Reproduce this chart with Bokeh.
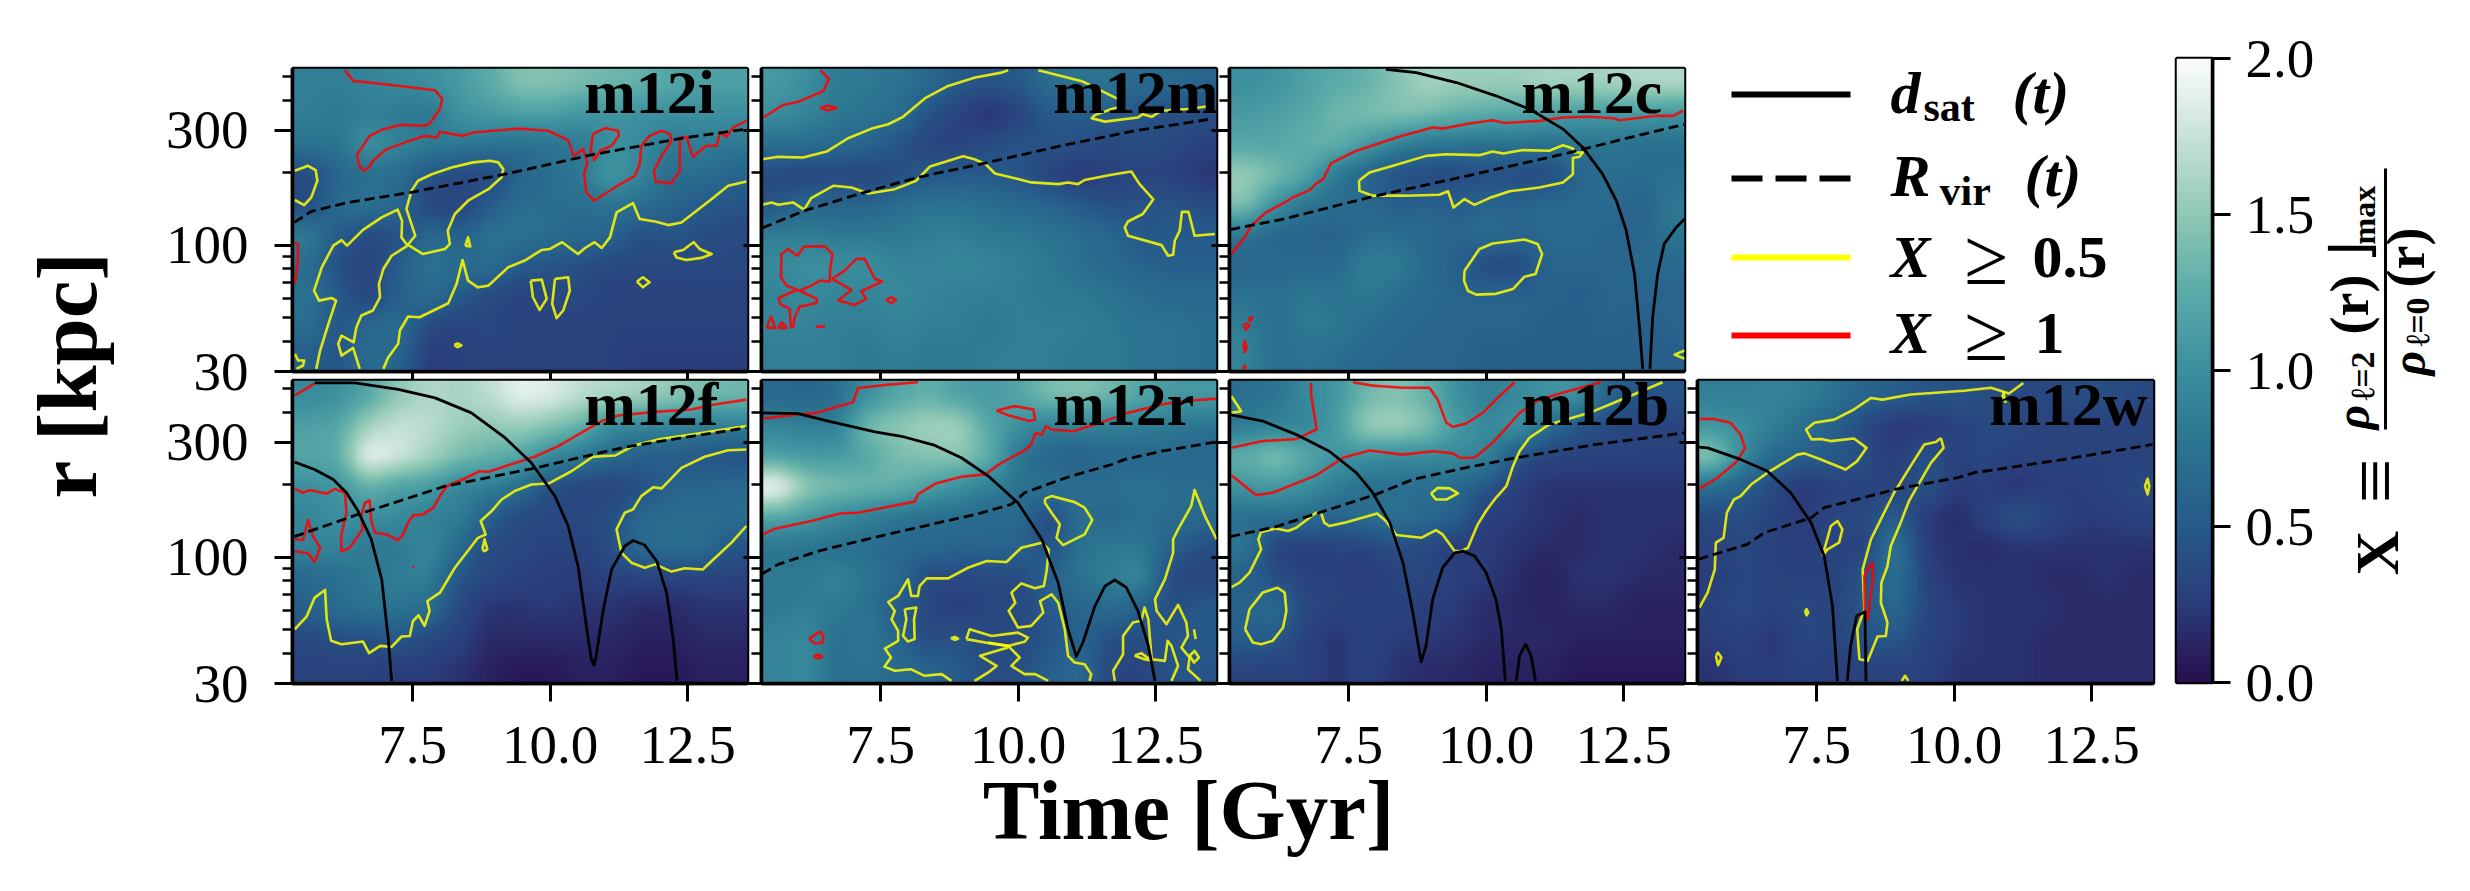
import math
import numpy as np
from bokeh.embed import file_html
from bokeh.resources import INLINE
from bokeh.plotting import figure
from bokeh.layouts import row, column
from bokeh.models import Range1d, FixedTicker, NumeralTickFormatter, LinearColorMapper, Label

# Heat-map values X, read row by row from the top of each panel (15 columns x 10 rows, uniform in t and log r)
M12I_X = [
 [.85,.85,.9,.95,1.0,1.1,1.25,1.45,1.45,1.4,1.35,1.3,1.2,1.15,1.15],
 [.85,.8,.85,.8,.75,1.05,1.1,1.15,1.15,1.05,1.05,1.0,1.0,1.0,1.0],
 [.75,.75,1.05,.9,.85,.8,.75,.7,.75,.8,1.0,.95,.8,.85,.8],
 [.35,.6,.7,.7,.45,.35,.35,.6,.7,.8,1.1,.9,.7,.7,.6],
 [.35,.7,.75,.65,.3,.3,.5,.7,.7,.7,.75,.7,.6,.5,.45],
 [.85,.5,.35,.4,.65,.55,.75,.75,.7,.65,.6,.4,.45,.4,.35],
 [.7,.4,.3,.55,.75,.7,.7,.5,.45,.4,.35,.35,.35,.35,.35],
 [.75,.5,.3,.55,.7,.5,.35,.3,.35,.35,.3,.3,.3,.3,.3],
 [.7,.45,.65,.7,.35,.3,.35,.3,.3,.3,.3,.3,.3,.3,.3],
 [.55,.45,.7,.6,.25,.3,.3,.3,.3,.3,.3,.25,.25,.25,.25]]
M12M_X = [
 [1.1,1.0,.8,.8,.75,.65,.5,.45,.5,.7,.75,.75,.65,.65,.6],
 [1.0,.9,.8,.75,.7,.45,.3,.15,.3,.5,.55,.5,.45,.4,.4],
 [.7,.7,.65,.6,.45,.3,.3,.4,.45,.45,.4,.35,.4,.35,.3],
 [.35,.3,.35,.3,.4,.5,.5,.5,.45,.3,.2,.3,.3,.3,.2],
 [.45,.65,.6,.6,.7,.75,.75,.7,.65,.6,.5,.4,.45,.45,.4],
 [.85,.85,.8,.8,.8,.85,.85,.8,.8,.75,.7,.65,.45,.5,.5],
 [.95,1.0,1.0,1.0,.9,.9,.95,.9,.85,.8,.7,.65,.6,.55,.55],
 [.9,.95,.9,.9,.95,.9,.85,.85,.85,.8,.8,.75,.7,.65,.65],
 [.9,.9,.85,.85,.9,.85,.85,.8,.85,.85,.85,.8,.75,.75,.7],
 [.85,.85,.85,.8,.85,.8,.8,.85,.85,.85,.8,.8,.75,.75,.7]]
M12C_X = [
 [1.0,1.05,1.15,1.25,1.3,1.45,1.6,1.55,1.55,1.55,1.6,1.6,1.6,1.65,1.65],
 [1.1,1.15,1.2,1.35,1.4,1.45,1.4,1.3,1.25,1.2,1.15,1.1,1.1,1.1,1.05],
 [1.2,1.2,1.3,1.3,1.1,.9,.75,.75,.7,.75,.7,.75,.75,.7,.7],
 [1.55,1.4,1.2,.8,.6,.4,.35,.35,.4,.35,.35,.6,.7,.7,.7],
 [1.45,1.0,.75,.7,.65,.55,.6,.55,.6,.6,.65,.65,.7,.55,.8],
 [.75,.6,.6,.55,.7,.7,.65,.6,.7,.6,.65,.65,.6,.6,.75],
 [.6,.65,.65,.65,.85,.85,.65,.55,.35,.35,.6,.6,.6,.65,.65],
 [.75,.7,.8,.75,.8,.7,.65,.6,.6,.6,.6,.55,.6,.6,.6],
 [.85,.7,.8,.8,.7,.65,.6,.6,.6,.6,.55,.55,.6,.55,.6],
 [.9,.7,.75,.7,.65,.6,.6,.6,.55,.55,.55,.55,.55,.55,.55]]
M12F_X = [
 [.95,1.0,1.2,1.5,1.65,1.6,1.7,1.9,1.85,1.7,1.65,1.6,1.5,1.4,1.35],
 [1.15,1.2,1.6,1.75,1.7,1.55,1.5,1.55,1.45,1.3,.95,.9,.9,.85,.85],
 [1.2,1.25,1.95,1.8,1.6,1.4,1.3,1.2,.95,.8,.65,.55,.5,.45,.4],
 [1.0,1.05,1.3,1.15,1.1,.9,.85,.7,.4,.3,.3,.4,.6,.6,.65],
 [.9,1.0,1.0,.95,.85,.85,.55,.35,.35,.35,.4,.65,.7,.7,.7],
 [.9,.9,.8,.8,.95,.65,.35,.35,.3,.3,.4,.7,.7,.7,.45],
 [.65,.7,.8,.85,.85,.45,.35,.3,.25,.25,.3,.3,.3,.3,.3],
 [.55,.7,.75,.75,.7,.35,.2,.2,.25,.2,.2,.15,.15,.2,.2],
 [.35,.4,.4,.5,.35,.3,.15,.15,.15,.15,.15,.1,.1,.15,.15],
 [.3,.3,.3,.25,.25,.2,.1,.05,.05,.1,.1,.05,.05,.1,.1]]
M12R_X = [
 [.65,.6,.7,1.0,1.2,1.3,1.15,1.1,1.2,1.4,1.45,1.35,1.2,1.1,1.1],
 [.9,.85,.85,1.4,1.5,1.6,1.6,1.2,1.0,.85,.9,.85,.85,.8,.75],
 [1.15,1.1,1.1,1.2,1.4,1.45,1.5,1.3,.75,.6,.55,.65,.6,.65,.6],
 [2.0,1.5,1.4,1.35,1.3,1.15,1.0,.85,.75,.75,.7,.7,.75,.7,.7],
 [1.2,1.1,.95,.85,.75,.7,.7,.65,.65,.35,.7,.65,.7,.7,.65],
 [.75,.75,.7,.7,.65,.65,.6,.6,.6,.4,.75,.8,.8,.55,.4],
 [.8,.8,.9,.75,.65,.35,.35,.35,.35,.6,.75,.85,.95,.35,.3],
 [.8,.85,.8,.75,.5,.35,.25,.35,.35,.5,.6,.7,.55,.4,.5],
 [.9,.95,.7,.8,.6,.35,.45,.35,.35,.45,.6,.4,.4,.45,.5],
 [.9,.95,.7,.75,.65,.6,.5,.4,.4,.55,.65,.35,.3,.45,.45]]
M12B_X = [
 [.7,.75,.95,1.05,1.35,1.45,1.3,1.0,.85,.95,1.05,1.05,.6,.45,.45],
 [.8,.9,.9,1.1,1.55,1.6,1.45,1.1,.95,1.05,.7,.45,.35,.3,.3],
 [1.3,1.45,1.25,1.05,1.0,.95,.95,.95,.9,.45,.3,.3,.3,.3,.3],
 [1.05,1.1,1.0,.85,.7,.7,.7,.65,.45,.25,.2,.2,.2,.2,.2],
 [.7,.7,.7,.6,.7,.75,.65,.55,.25,.25,.2,.15,.2,.2,.2],
 [.8,.3,.25,.3,.3,.4,.35,.25,.25,.2,.15,.15,.2,.2,.15],
 [.55,.4,.3,.3,.25,.3,.35,.25,.25,.15,.1,.2,.2,.15,.15],
 [.6,.7,.35,.3,.3,.3,.25,.25,.15,.15,.1,.15,.15,.1,.1],
 [.55,.5,.3,.2,.3,.25,.25,.2,.15,.15,.15,.1,.1,.1,.1],
 [.3,.3,.3,.2,.3,.2,.15,.15,.1,.1,.1,.05,.05,.05,.05]]
M12W_X = [
 [.85,.85,.9,.85,.75,.6,.55,.45,.45,.4,.35,.35,.4,.4,.35],
 [1.05,1.0,.85,.7,.55,.35,.2,.2,.3,.35,.35,.3,.3,.3,.3],
 [1.5,.95,.65,.55,.5,.4,.25,.45,.3,.35,.3,.3,.3,.3,.3],
 [.7,.55,.35,.2,.3,.3,.3,.45,.25,.25,.2,.25,.25,.3,.35],
 [.35,.4,.3,.25,.35,.35,.55,.25,.15,.3,.45,.35,.25,.25,.3],
 [.3,.35,.3,.25,.3,.3,.8,.25,.2,.15,.2,.2,.2,.2,.2],
 [.25,.35,.3,.3,.3,.45,.75,.3,.2,.2,.2,.15,.15,.2,.15],
 [.3,.35,.3,.35,.3,.5,.65,.35,.25,.2,.2,.2,.15,.15,.15],
 [.25,.3,.2,.35,.3,.45,.5,.3,.25,.2,.2,.15,.15,.15,.15],
 [.2,.25,.25,.3,.25,.3,.3,.3,.2,.2,.2,.15,.15,.15,.15]]

# Curves as (time in Gyr, log10 r in kpc)
M12I_RED = [
 [(6.27,2.726),(6.42,2.682),(7.00,2.668),(7.91,2.643),(8.04,2.606),(8.00,2.565),(7.81,2.505),(7.72,2.496),(7.30,2.500),(6.94,2.479),(6.72,2.454),(6.49,2.375),(6.53,2.330),(6.62,2.309),(6.72,2.326),(6.78,2.351),(7.03,2.399),(7.42,2.431),(7.72,2.454),(7.94,2.447),(8.00,2.471),(8.42,2.454),(8.60,2.468),(9.42,2.484),(9.97,2.475),(10.33,2.436),(10.43,2.371),(10.60,2.399),(10.68,2.344),(10.62,2.295),(10.66,2.220),(10.80,2.185),(11.18,2.240),(11.54,2.288),(11.63,2.337),(11.66,2.413),(11.81,2.454),(12.03,2.475),(12.18,2.461),(12.21,2.433),(12.03,2.371),(11.89,2.309),(11.92,2.265),(12.21,2.258),(12.36,2.309),(12.36,2.447),(12.48,2.450),(12.60,2.367),(12.84,2.413),(13.03,2.413),(13.09,2.468),(13.21,2.450),(13.33,2.489),(13.57,2.516)],
 [(10.78,2.461),(11.00,2.486),(11.24,2.475),(11.25,2.454),(11.12,2.413),(10.91,2.392),(10.81,2.353),(10.74,2.392),(10.78,2.461)],
 [(5.36,2.012),(5.42,2.006),(5.41,1.923),(5.36,1.840)]]
M12I_YELLOW = [
 [(5.36,2.309),(5.60,2.330),(5.74,2.312),(5.77,2.268),(5.66,2.199),(5.53,2.167),(5.36,2.188)],
 [(5.75,1.488),(5.82,1.564),(5.97,1.674),(6.11,1.771),(6.03,1.782),(5.80,1.771),(5.71,1.812),(5.85,1.909),(6.06,1.999),(6.21,2.022),(6.31,1.999),(6.60,2.064),(6.94,2.116),(7.23,2.148),(7.31,2.102),(7.30,2.033),(7.39,2.006),(7.69,1.964),(8.09,1.985),(8.18,2.006),(8.14,2.061),(8.27,2.130),(8.51,2.185),(8.88,2.233),(9.12,2.282),(9.15,2.316),(9.06,2.344),(8.91,2.351),(8.60,2.344),(8.21,2.323),(7.85,2.295),(7.60,2.268),(7.48,2.226),(7.39,2.151),(7.55,2.040),(7.39,1.996),(7.12,1.957),(6.97,1.902),(6.89,1.840),(6.91,1.785),(6.78,1.730),(6.57,1.709),(6.48,1.661),(6.43,1.598),(6.21,1.626),(6.15,1.592),(6.21,1.543),(6.42,1.575),(6.54,1.488)],
 [(6.97,1.488),(7.06,1.536),(7.24,1.592),(7.27,1.647),(7.42,1.705),(7.63,1.702),(8.15,1.760),(8.30,1.840),(8.41,1.939),(8.51,1.854),(8.69,1.826),(8.88,1.833),(9.24,1.909),(9.54,1.937),(9.85,1.981),(10.00,1.985),(10.22,2.013),(10.51,1.964),(10.63,1.988),(10.81,2.013),(10.94,1.989),(11.09,2.033),(11.21,2.137),(11.51,2.175),(11.63,2.109),(11.91,2.099),(12.15,2.084),(12.39,2.095),(12.63,2.137),(12.94,2.192),(13.24,2.247),(13.57,2.265)],
 [(8.46,1.999),(8.51,2.033),(8.55,1.995),(8.46,1.999)],
 [(9.65,1.854),(9.85,1.858),(9.94,1.778),(9.81,1.732),(9.69,1.785),(9.65,1.854)],
 [(10.09,1.861),(10.33,1.868),(10.36,1.812),(10.24,1.730),(10.12,1.698),(10.04,1.757),(10.09,1.861)],
 [(11.58,1.850),(11.69,1.868),(11.81,1.847),(11.69,1.826),(11.58,1.850)],
 [(12.25,1.971),(12.42,1.981),(12.61,2.013),(12.72,1.985),(12.94,1.964),(12.75,1.948),(12.48,1.939),(12.30,1.950),(12.25,1.971)],
 [(8.26,1.587),(8.32,1.594),(8.39,1.585),(8.32,1.578),(8.26,1.587)],
 [(5.36,1.550),(5.42,1.523),(5.53,1.523),(5.51,1.502),(5.39,1.488)]]
M12I_RVIR = [(5.35,2.095),(5.66,2.141),(6.33,2.178),(7.48,2.220),(9.18,2.295),(10.75,2.375),(12.39,2.444),(13.57,2.482)]
M12I_DSAT = []

M12M_RED = [
 [(6.41,2.726),(6.56,2.689),(6.46,2.640),(6.00,2.595),(5.73,2.582),(5.37,2.530)],
 [(6.40,2.569),(6.55,2.580),(6.70,2.569),(6.55,2.560),(6.40,2.569)],
 [(6.03,1.812),(5.79,1.833),(5.69,1.868),(5.70,1.964),(5.82,1.985),(5.99,1.957),(6.11,1.995),(6.49,1.996),(6.63,1.964),(6.58,1.895),(6.58,1.850),(6.40,1.854),(6.24,1.833),(6.03,1.812),(6.34,1.778),(6.34,1.761),(6.03,1.746),(5.94,1.702),(5.91,1.661),(5.87,1.661),(5.85,1.737),(5.67,1.757),(5.65,1.782),(5.97,1.815)],
 [(6.62,1.861),(6.85,1.895),(7.06,1.944),(7.21,1.944),(7.40,1.861),(7.53,1.850),(7.15,1.810),(7.24,1.778),(7.03,1.753),(6.73,1.771),(6.97,1.815),(6.62,1.861)],
 [(7.60,1.774),(7.70,1.785),(7.78,1.774),(7.70,1.760),(7.60,1.774)],
 [(5.43,1.658),(5.51,1.705),(5.59,1.658),(5.43,1.658)],
 [(5.64,1.658),(5.71,1.681),(5.79,1.658),(5.64,1.658)],
 [(6.32,1.663),(6.49,1.663)]]
M12M_YELLOW = [
 [(5.35,2.357),(5.64,2.367),(6.09,2.364),(6.52,2.389),(6.91,2.444),(7.34,2.484),(7.64,2.502),(7.91,2.533),(8.31,2.610),(8.73,2.661),(9.22,2.696),(9.70,2.716),(9.82,2.726)],
 [(10.37,2.726),(11.18,2.679),(11.82,2.606),(11.91,2.578),(11.70,2.565),(11.40,2.540),(11.34,2.527),(11.58,2.513),(12.18,2.530),(12.27,2.544),(12.43,2.533),(12.61,2.558),(13.09,2.565),(13.49,2.578)],
 [(5.35,2.168),(5.52,2.178),(5.64,2.168),(5.91,2.178),(6.11,2.148),(6.24,2.196),(6.64,2.247),(6.97,2.240),(7.28,2.215),(7.76,2.233),(8.15,2.268),(8.40,2.327),(9.00,2.369),(9.21,2.357),(9.41,2.337),(9.58,2.298),(10.00,2.275),(10.24,2.261),(10.73,2.254),(10.91,2.261),(11.09,2.254),(11.21,2.271),(11.70,2.293),(12.06,2.306),(12.21,2.254),(12.46,2.191),(12.27,2.130),(12.00,2.099),(11.94,2.075),(12.00,2.040),(12.61,2.001),(12.73,1.957),(12.82,1.961),(12.85,2.019),(12.94,2.061),(12.98,2.139),(13.10,2.139),(13.21,2.040),(13.58,2.047)]]
M12M_RVIR = [(5.35,2.072),(6.12,2.144),(7.21,2.220),(8.18,2.282),(9.40,2.341),(10.79,2.413),(12.12,2.475),(13.49,2.523)]
M12M_DSAT = []

M12C_RED = [
 [(5.37,1.964),(5.61,2.033),(5.73,2.081),(6.00,2.137),(6.31,2.174),(6.49,2.199),(6.79,2.229),(6.92,2.258),(7.04,2.275),(7.18,2.340),(7.61,2.389),(8.43,2.451),(9.03,2.489),(9.21,2.484),(9.70,2.505),(10.12,2.519),(10.34,2.507),(10.97,2.516),(11.40,2.530),(11.88,2.533),(12.31,2.527),(12.43,2.519),(13.09,2.537),(13.40,2.537),(13.58,2.558)],
 [(5.59,1.667),(5.64,1.677),(5.70,1.667),(5.63,1.651),(5.59,1.667)],
 [(5.69,1.699),(5.75,1.702),(5.71,1.685),(5.69,1.699)],
 [(5.59,1.585),(5.61,1.603),(5.65,1.578),(5.61,1.557),(5.59,1.585)],
 [(5.58,1.488),(5.61,1.502),(5.64,1.488)]]
M12C_YELLOW = [
 [(7.69,2.268),(7.88,2.302),(8.31,2.330),(8.91,2.371),(9.28,2.378),(9.88,2.374),(10.12,2.389),(10.31,2.381),(10.67,2.395),(11.15,2.392),(11.40,2.415),(11.58,2.402),(11.61,2.385),(11.76,2.385),(11.70,2.367),(11.58,2.362),(11.58,2.295),(11.40,2.261),(10.97,2.240),(10.43,2.224),(10.06,2.196),(9.79,2.168),(9.61,2.192),(9.41,2.157),(9.31,2.224),(9.15,2.210),(8.55,2.206),(7.94,2.206),(7.70,2.226),(7.69,2.268)],
 [(9.61,1.895),(9.88,1.985),(10.12,2.008),(10.70,2.024),(10.94,2.006),(11.02,1.964),(10.90,1.881),(10.70,1.870),(10.49,1.819),(10.18,1.799),(9.82,1.796),(9.67,1.812),(9.60,1.854),(9.61,1.895)],
 [(13.61,1.564),(13.43,1.547),(13.61,1.530)]]
M12C_RVIR = [(5.35,2.065),(6.37,2.112),(7.88,2.199),(9.58,2.284),(11.40,2.378),(12.61,2.447),(13.61,2.502)]
M12C_DSAT = [
 [(8.18,2.730),(8.73,2.716),(9.46,2.675),(10.18,2.620),(10.79,2.565),(11.40,2.482),(11.76,2.406),(12.12,2.295),(12.37,2.185),(12.55,2.061),(12.70,1.881),(12.79,1.661),(12.85,1.488)],
 [(12.98,1.488),(13.03,1.702),(13.12,1.881),(13.24,2.006),(13.46,2.075),(13.61,2.109)]]

M12F_RED = [
 [(5.36,2.671),(5.54,2.696),(5.72,2.720)],
 [(13.57,2.654),(12.99,2.634),(12.57,2.613),(11.91,2.603),(11.24,2.588),(10.94,2.565),(10.51,2.509),(10.15,2.461),(9.72,2.417),(9.24,2.382),(8.88,2.355),(8.72,2.357),(8.45,2.327),(8.12,2.295),(8.00,2.254),(7.88,2.206),(7.69,2.178),(7.51,2.174),(7.42,2.144),(7.33,2.095),(7.23,2.070),(7.03,2.095),(6.82,2.102),(6.75,2.151),(6.72,2.237),(6.63,2.224),(6.57,2.171),(6.59,2.116),(6.36,2.040),(6.21,2.024),(6.20,2.088),(6.30,2.185),(6.27,2.268),(6.09,2.284),(5.94,2.264),(5.63,2.279),(5.51,2.268),(5.36,2.284)],
 [(5.36,2.075),(5.51,2.072),(5.60,2.155),(5.69,2.088),(5.82,2.040),(5.72,1.982),(5.60,2.017),(5.36,2.026)],
 [(7.51,1.964),(7.52,1.957)]]
M12F_YELLOW = [
 [(5.36,1.702),(5.57,1.753),(5.72,1.833),(5.91,1.865),(5.94,1.743),(6.02,1.654),(6.21,1.640),(6.60,1.651),(6.71,1.603),(6.91,1.633),(7.12,1.629),(7.30,1.672),(7.45,1.674),(7.51,1.737),(7.61,1.760),(7.72,1.716),(7.81,1.778),(7.77,1.819),(8.00,1.854),(8.27,1.957),(8.48,2.019),(8.69,2.081),(8.83,2.095),(8.74,2.151),(8.94,2.192),(9.12,2.240),(9.36,2.275),(9.66,2.302),(9.97,2.306),(10.39,2.357),(10.78,2.417),(11.18,2.422),(11.54,2.465),(11.97,2.489),(12.57,2.509),(13.57,2.544)],
 [(8.77,2.033),(8.81,2.075),(8.86,2.033),(8.81,2.026),(8.77,2.033)],
 [(13.57,2.130),(13.30,2.061),(12.94,1.985),(12.78,1.950),(12.45,1.955),(12.21,1.941),(11.91,1.971),(11.72,1.957),(11.48,1.978),(11.30,2.019),(11.21,2.116),(11.36,2.185),(11.51,2.199),(11.66,2.254),(11.88,2.291),(12.03,2.286),(12.39,2.371),(12.81,2.417),(13.24,2.444),(13.57,2.447)]]
M12F_RVIR = [(5.35,2.086),(6.51,2.178),(8.09,2.295),(9.66,2.367),(11.36,2.457),(12.57,2.502),(13.57,2.537)]
M12F_DSAT = [
 [(5.72,2.723),(6.45,2.723),(7.24,2.696),(7.91,2.661),(8.57,2.599),(9.18,2.496),(9.66,2.392),(10.09,2.254),(10.33,2.130),(10.51,1.964),(10.66,1.716),(10.75,1.578),(10.80,1.553),(10.84,1.592),(10.97,1.785),(11.12,1.950),(11.36,2.047),(11.51,2.070),(11.72,2.051),(11.94,1.985),(12.12,1.854),(12.24,1.661),(12.31,1.488)],
 [(5.36,2.395),(5.72,2.364),(6.06,2.323),(6.30,2.268),(6.51,2.192),(6.75,2.075),(6.94,1.909),(7.06,1.661),(7.12,1.488)]]

M12R_RED = [
 [(5.37,2.576),(6.00,2.592),(6.34,2.599),(6.70,2.624),(7.00,2.643),(7.09,2.702),(7.64,2.716),(8.18,2.726)],
 [(5.37,2.095),(5.58,2.119),(6.24,2.151),(6.76,2.182),(7.09,2.185),(8.12,2.231),(8.18,2.261),(8.49,2.305),(8.97,2.334),(9.40,2.344),(9.70,2.392),(10.12,2.444),(10.24,2.468),(10.32,2.516),(10.43,2.509),(10.51,2.544),(10.61,2.530),(11.00,2.523),(11.40,2.551),(12.00,2.599),(12.61,2.634),(12.97,2.647),(13.61,2.658)],
 [(9.61,2.609),(9.94,2.627),(10.28,2.613),(10.31,2.571),(10.21,2.565),(9.82,2.589),(9.61,2.609)],
 [(6.20,1.663),(6.40,1.692),(6.46,1.674),(6.45,1.647),(6.31,1.643),(6.20,1.663)],
 [(6.28,1.589),(6.37,1.597),(6.44,1.589),(6.37,1.581),(6.28,1.589)]]
M12R_YELLOW = [
 [(10.49,2.243),(10.61,2.254),(11.03,2.229),(11.21,2.206),(11.35,2.155),(11.21,2.095),(10.82,2.051),(10.70,2.081),(10.76,2.137),(10.61,2.185),(10.49,2.226),(10.49,2.243)],
 [(8.79,1.488),(8.61,1.516),(8.30,1.509),(8.06,1.536),(7.76,1.530),(7.57,1.547),(7.69,1.585),(7.58,1.622),(7.82,1.654),(7.82,1.695),(7.70,1.743),(7.76,1.778),(7.64,1.815),(7.82,1.840),(8.00,1.909),(8.06,1.840),(8.18,1.840),(8.21,1.881),(8.34,1.913),(8.73,1.913),(9.09,1.957),(9.43,1.985),(9.79,1.981),(10.06,2.040),(10.43,2.061),(10.56,2.033),(10.52,1.944),(10.47,1.881),(10.31,1.872),(10.06,1.892),(9.88,1.854),(9.95,1.812),(9.83,1.778),(10.00,1.709),(10.24,1.716),(10.46,1.771),(10.40,1.819),(10.61,1.847),(10.73,1.812),(10.85,1.702),(10.91,1.592),(11.03,1.564),(11.21,1.557),(11.33,1.516),(11.30,1.488)],
 [(7.94,1.785),(8.15,1.792),(8.11,1.743),(8.12,1.661),(8.00,1.651),(7.91,1.674),(7.97,1.743),(7.94,1.785)],
 [(9.06,1.661),(9.12,1.702),(9.52,1.674),(10.00,1.688),(10.18,1.667),(10.12,1.650),(9.82,1.633),(9.58,1.640),(9.06,1.661)],
 [(9.46,1.647),(9.82,1.633),(10.03,1.585),(9.88,1.550),(10.12,1.516),(10.31,1.516),(10.55,1.488)],
 [(9.82,1.626),(9.31,1.592),(9.61,1.550),(9.46,1.523),(9.21,1.488)],
 [(8.78,1.665),(8.85,1.670),(8.91,1.663),(8.85,1.658),(8.78,1.665)],
 [(11.76,1.488),(11.73,1.530),(11.91,1.598),(11.91,1.674),(12.09,1.730),(12.24,1.737),(12.30,1.792),(12.37,1.743),(12.43,1.578),(12.67,1.571),(12.72,1.654),(12.79,1.633),(12.91,1.550),(12.79,1.488)],
 [(12.12,1.592),(12.24,1.603),(12.43,1.571),(12.30,1.578),(12.12,1.592)],
 [(13.61,2.075),(13.40,2.171),(13.21,2.279),(13.15,2.213),(12.91,2.116),(12.82,2.075),(12.82,2.019),(12.67,1.909),(12.49,1.826),(12.52,1.778),(12.70,1.723),(12.91,1.803),(13.06,1.730),(13.09,1.674),(12.97,1.626),(13.12,1.585),(13.09,1.536),(13.32,1.488)],
 [(13.20,1.702),(13.23,1.661)],
 [(13.12,1.592),(13.21,1.612),(13.29,1.585),(13.20,1.564),(13.12,1.592)]]
M12R_RVIR = [(5.35,1.932),(5.64,1.971),(6.37,2.026),(7.28,2.077),(8.37,2.134),(9.28,2.181),(9.88,2.220),(10.12,2.268),(10.91,2.333),(11.70,2.385),(11.94,2.406),(12.61,2.440),(13.61,2.479)]
M12R_DSAT = [
 [(5.35,2.599),(6.00,2.596),(6.55,2.565),(7.40,2.520),(7.88,2.502),(8.49,2.464),(8.97,2.413),(9.46,2.337),(10.00,2.226),(10.43,2.075),(10.73,1.895),(10.91,1.702),(11.06,1.589),(11.18,1.647),(11.40,1.799),(11.58,1.881),(11.76,1.906),(11.97,1.875),(12.18,1.778),(12.37,1.633),(12.49,1.488)]]

M12B_RED = [
 [(6.82,2.723),(6.82,2.675),(6.92,2.530),(6.55,2.491),(5.94,2.482),(5.37,2.454)],
 [(7.58,2.726),(7.94,2.712),(8.49,2.703),(8.97,2.703),(9.12,2.654),(9.28,2.558),(9.40,2.541),(9.64,2.555),(9.94,2.599),(10.24,2.668),(10.52,2.726)],
 [(5.37,2.340),(5.82,2.258),(6.12,2.268),(6.91,2.340),(7.40,2.413),(7.88,2.443),(8.49,2.426),(9.03,2.440),(9.40,2.431),(9.52,2.413),(9.79,2.413),(10.12,2.475),(10.37,2.537),(10.61,2.599),(10.97,2.654),(11.52,2.691),(12.09,2.726)]]
M12B_YELLOW = [
 [(5.37,2.668),(5.55,2.606),(5.37,2.599)],
 [(13.21,2.726),(12.61,2.668),(11.88,2.599),(11.15,2.551),(10.79,2.496),(10.61,2.440),(10.49,2.378),(10.37,2.295),(10.18,2.247),(10.00,2.192),(9.85,2.137),(9.67,2.040),(9.55,2.026),(9.43,2.026),(9.21,2.095),(9.09,2.113),(8.82,2.081),(8.37,2.093),(8.18,2.151),(8.02,2.182),(7.46,2.146),(7.15,2.130),(7.06,2.144),(7.00,2.185),(6.91,2.185),(6.55,2.123),(6.40,2.109),(6.18,2.120),(5.91,2.105),(5.86,2.075),(5.91,2.033),(5.70,1.937),(5.52,1.895),(5.37,1.877)],
 [(9.00,2.265),(9.12,2.288),(9.34,2.286),(9.49,2.265),(9.28,2.240),(9.09,2.240),(9.00,2.265)],
 [(5.62,1.702),(5.70,1.785),(5.94,1.854),(6.21,1.874),(6.34,1.854),(6.37,1.778),(6.31,1.709),(6.12,1.654),(5.91,1.640),(5.76,1.647),(5.62,1.702)]]
M12B_RVIR = [(5.35,2.086),(6.18,2.127),(6.91,2.181),(8.00,2.261),(8.67,2.323),(9.58,2.369),(10.55,2.413),(12.00,2.468),(13.61,2.516)]
M12B_DSAT = [
 [(5.35,2.592),(5.94,2.565),(6.55,2.509),(7.15,2.440),(7.64,2.351),(7.94,2.268),(8.25,2.144),(8.49,1.978),(8.67,1.771),(8.82,1.567),(8.91,1.633),(9.03,1.826),(9.21,1.957),(9.43,2.019),(9.58,2.026),(9.79,2.006),(10.00,1.937),(10.18,1.826),(10.28,1.702),(10.35,1.488)],
 [(10.55,1.488),(10.61,1.592),(10.72,1.640),(10.82,1.592),(10.90,1.488)]]

M12W_RED = [
 [(5.37,2.574),(5.64,2.574),(5.94,2.558),(6.12,2.509),(6.20,2.454),(6.06,2.399),(5.70,2.330),(5.37,2.284)],
 [(8.49,1.975),(8.37,1.923),(8.38,1.771),(8.43,1.743),(8.52,1.909),(8.52,1.975),(8.49,1.975)]]
M12W_YELLOW = [
 [(5.37,1.792),(5.52,1.854),(5.65,1.950),(5.67,2.061),(5.81,2.081),(5.87,2.185),(6.00,2.240),(6.12,2.254),(6.31,2.302),(6.61,2.351),(7.15,2.426),(7.28,2.431),(7.58,2.406),(8.03,2.364),(8.24,2.399),(8.41,2.454),(8.18,2.493),(7.76,2.482),(7.58,2.491),(7.41,2.489),(7.31,2.530),(7.46,2.558),(7.82,2.571),(8.18,2.613),(8.49,2.661),(8.70,2.654),(9.21,2.675),(10.18,2.691),(10.67,2.703),(11.00,2.679),(11.26,2.723)],
 [(10.85,2.640),(10.90,2.682),(10.94,2.640)],
 [(7.61,2.006),(7.76,2.130),(7.88,2.151),(7.97,2.116),(7.91,2.061),(7.70,2.033),(7.61,2.006)],
 [(9.76,2.495),(9.81,2.454),(9.58,2.392),(9.37,2.309),(9.18,2.233),(9.03,2.144),(8.85,2.047),(8.79,1.964),(8.68,1.895),(8.67,1.812),(8.79,1.730),(8.76,1.674),(8.61,1.672),(8.43,1.571),(8.28,1.578),(8.24,1.702),(8.37,1.785),(8.34,1.950),(8.49,2.075),(8.64,2.144),(8.91,2.268),(9.21,2.378),(9.46,2.468),(9.67,2.478),(9.76,2.495)],
 [(7.29,1.778),(7.32,1.785),(7.35,1.771),(7.32,1.760),(7.29,1.778)],
 [(5.67,1.592),(5.71,1.605),(5.77,1.585),(5.71,1.553),(5.67,1.592)],
 [(9.05,1.488),(9.11,1.509),(9.17,1.488)],
 [(13.47,2.295),(13.52,2.326),(13.55,2.295),(13.52,2.261),(13.47,2.295)]]
M12W_RVIR = [(5.35,1.992),(6.24,2.054),(6.55,2.102),(7.40,2.164),(7.64,2.206),(8.97,2.284),(10.06,2.330),(10.37,2.351),(12.00,2.406),(13.61,2.468)]
M12W_DSAT = [
 [(5.35,2.457),(5.52,2.454),(6.12,2.406),(6.61,2.357),(7.03,2.268),(7.40,2.144),(7.64,2.006),(7.79,1.799),(7.88,1.488)],
 [(8.06,1.488),(8.12,1.633),(8.23,1.757),(8.38,1.775),(8.40,1.488)]]

TIME_TICKS = [7.5, 10, 12.5]
R_TICKS = [30, 100, 300]
R_MINOR = [40, 50, 60, 70, 80, 90, 200, 400, 500]
CB_TICKS = [0, 0.5, 1, 1.5, 2]

anchors_v = [0, .12, .25, .5, .75, 1, 1.25, 1.5, 1.75, 2]
anchors_c = ["#261050", "#2a2564", "#2a3d7a", "#265a8a", "#2b7390", "#3b8f9e", "#5aaba8", "#8fc8b4", "#c8e2d8", "#fbfdfc"]
rgb = np.array([[int(c[i:i+2], 16) for i in (1, 3, 5)] for c in anchors_c], float)
vv = np.linspace(0, 2, 256)
PAL = ["#%02x%02x%02x" % tuple(int(round(np.interp(v, anchors_v, rgb[:, k]))) for k in range(3)) for v in vv]
MAPPER = LinearColorMapper(palette=PAL, low=0, high=2)

FONT = "Liberation Serif"
TICK_SIZE = "55px"
R_LOW, R_HIGH = 30, 541
BASE_SHIFT = 0.34          # Bokeh sets an "alphabetic" label this far (in em) under the anchor
PX_PER_DEX = 241.7


def xy(curves):
    return [[p[0] for p in c] for c in curves], [[10 ** p[1] for p in c] for c in curves]


def resample(grid, k=16):
    """Rendering only: smooth the coarse readings so the panel shades without visible cells."""
    a = np.array(grid, float)[::-1]
    ny, nx = a.shape
    xo = (np.arange(nx) + .5) / nx
    yo = (np.arange(ny) + .5) / ny
    xn = (np.arange(nx * k) + .5) / (nx * k)
    yn = (np.arange(ny * k) + .5) / (ny * k)
    a = np.array([np.interp(xn, xo, r) for r in a])
    a = np.array([np.interp(yn, yo, c) for c in a.T]).T
    w = k // 2 + 1
    ker = np.ones(w) / w
    for _ in range(2):
        pad = np.pad(a, ((w // 2, w // 2), (0, 0)), mode="edge")
        a = np.apply_along_axis(lambda m: np.convolve(m, ker, mode="valid"), 0, pad)
        pad = np.pad(a, ((0, 0), (w // 2, w // 2)), mode="edge")
        a = np.apply_along_axis(lambda m: np.convolve(m, ker, mode="valid"), 1, pad)
    return a


def panel(name, grid, red, yellow, rvir, dsat, t0, bl, fw, fh, bt, bb, br, ylabels, xlabels, margin):
    p = figure(width=bl + fw + br, height=bt + fh + bb, y_axis_type="log", output_backend="svg", toolbar_location=None,
               x_range=Range1d(t0, t0 + fw / 55), y_range=Range1d(R_LOW, R_HIGH),
               min_border_left=bl, min_border_right=br, min_border_top=bt, min_border_bottom=bb,
               border_fill_color=None, background_fill_color=None, outline_line_color="black", outline_line_width=3.5,
               margin=margin)
    p.grid.visible = False
    p.image(image=[resample(grid)], x=t0, y=R_LOW, dw=fw / 55, dh=R_HIGH - R_LOW, color_mapper=MAPPER)
    if yellow:
        xs, ys = xy(yellow)
        p.multi_line(xs, ys, line_color="#ffff00", line_alpha=0.85, line_width=2.6, line_join="round")
    if red:
        xs, ys = xy(red)
        p.multi_line(xs, ys, line_color="#ff0000", line_alpha=0.85, line_width=2.6, line_join="round")
    xs, ys = xy([rvir])
    p.line(xs[0], ys[0], line_color="black", line_width=2.8, line_dash="10 5")
    if dsat:
        xs, ys = xy(dsat)
        p.multi_line(xs, ys, line_color="black", line_width=2.8, line_join="round")
    for ax in p.xaxis + p.yaxis:
        ax.axis_line_width = 3.5
        ax.major_tick_line_width = 3
        ax.minor_tick_line_width = 2.5
        ax.major_tick_in = 0
        ax.minor_tick_in = 0
        ax.major_tick_out = 18
        ax.minor_tick_out = 10
        ax.major_label_text_font = FONT
        ax.major_label_text_color = "black"
        ax.major_label_text_font_size = TICK_SIZE
    p.xaxis.ticker = FixedTicker(ticks=TIME_TICKS)
    p.xaxis.formatter = NumeralTickFormatter(format="0.0")
    p.yaxis.ticker = FixedTicker(ticks=R_TICKS, minor_ticks=R_MINOR)
    p.yaxis.formatter = NumeralTickFormatter(format="0")
    p.yaxis.major_label_standoff = 26
    p.xaxis.major_label_standoff = 25
    if not ylabels:
        p.yaxis.major_label_text_font_size = "1px"
        p.yaxis.major_label_text_color = None
        p.yaxis.major_label_standoff = 0
    if not xlabels:
        p.xaxis.major_label_text_font_size = "1px"
        p.xaxis.major_label_text_color = None
        p.xaxis.major_label_standoff = 0
    lbl_t = t0 + 875 / 165
    lbl_size = 62
    p.add_layout(Label(x=lbl_t, y=10 ** (2.547 + BASE_SHIFT * lbl_size / PX_PER_DEX), text=name, text_font=FONT,
                       text_font_style="bold", text_font_size="%dpx" % lbl_size, text_color="black",
                       text_align="left", text_baseline="alphabetic"))
    return p


def blank(x0, y0, w, h, margin=None):
    p = figure(width=w, height=h, x_axis_type=None, y_axis_type=None, output_backend="svg", toolbar_location=None,
               x_range=Range1d(x0, x0 + w), y_range=Range1d(y0 + h, y0), frame_align=False,
               min_border=0, min_border_left=0, min_border_right=0, min_border_top=0, min_border_bottom=0,
               border_fill_color=None, background_fill_color=None, outline_line_color=None, margin=margin)
    p.grid.visible = False
    return p


def put(p, x, y, s, size, style="normal", angle=0, align="left", font=FONT):
    if angle:
        x -= BASE_SHIFT * size
    else:
        y -= BASE_SHIFT * size
    p.add_layout(Label(x=x, y=y, text=s, text_font=font, text_font_style=style, text_font_size="%dpx" % size,
                       text_color="black", text_align=align, text_baseline="alphabetic", angle=angle,
                       angle_units="rad"))


HT = math.pi / 2
FH = 303
BB = 115
BT2 = 45
f_i = panel("m12i", M12I_X, M12I_RED, M12I_YELLOW, M12I_RVIR, M12I_DSAT, 5.318, 132, 455, FH, 60, 29, 5, True, False, (0, 0, 0, 0))
f_m = panel("m12m", M12M_X, M12M_RED, M12M_YELLOW, M12M_RVIR, M12M_DSAT, 5.336, 23, 455, FH, 60, 29, 5, False, False, (0, 0, 0, -14))
f_c = panel("m12c", M12C_X, M12C_RED, M12C_YELLOW, M12C_RVIR, M12C_DSAT, 5.336, 23, 455, FH, 60, 29, 5, False, False, (0, 0, 0, -15))
f_f = panel("m12f", M12F_X, M12F_RED, M12F_YELLOW, M12F_RVIR, M12F_DSAT, 5.318, 132, 455, FH, BT2, BB, 5, True, True, (0, 0, 0, 0))
f_r = panel("m12r", M12R_X, M12R_RED, M12R_YELLOW, M12R_RVIR, M12R_DSAT, 5.336, 23, 455, FH, BT2, BB, 5, False, True, (0, 0, 0, -14))
f_b = panel("m12b", M12B_X, M12B_RED, M12B_YELLOW, M12B_RVIR, M12B_DSAT, 5.336, 23, 455, FH, BT2, BB, 5, False, True, (0, 0, 0, -15))
f_w = panel("m12w", M12W_X, M12W_RED, M12W_YELLOW, M12W_RVIR, M12W_DSAT, 5.336, 23, 456, FH, BT2, BB, 5, False, True, (0, 0, 0, -15))

# Legend
lg = blank(1689, 8, 469, 392)
lg.line([1731, 1850], [94, 94], line_color="black", line_width=6)
lg.line([1731, 1850], [178, 178], line_color="black", line_width=6, line_dash="31 13")
lg.line([1731, 1850], [257, 257], line_color="#ffff00", line_width=6)
lg.line([1731, 1850], [335, 335], line_color="#ff0000", line_width=6)
put(lg, 1890, 113, "d", 60, "bold italic")
put(lg, 1923, 121, "sat", 42, "bold")
put(lg, 2012, 113, "(t)", 60, "bold italic")
put(lg, 1890, 196, "R", 60, "bold italic")
put(lg, 1939, 205, "vir", 42, "bold")
put(lg, 2024, 196, "(t)", 60, "bold italic")
put(lg, 1890, 277, "X", 60, "bold italic")
put(lg, 1964, 284, "\u2265", 80, "normal")
put(lg, 2032, 277, "0.5", 60, "bold")
put(lg, 1890, 353, "X", 60, "bold italic")
put(lg, 1964, 360, "\u2265", 80, "normal")
put(lg, 2034, 353, "1", 60, "bold")

# y label, x label
yl = blank(8, 8, 152, 872)
put(yl, 95, 374, "r [kpc]", 85, "bold", HT, "center")
xl = blank(160, 733, 1998, 147, (-65, 0, 0, 0))
put(xl, 1188, 838, "Time [Gyr]", 85, "bold", 0, "center")

# Colour bar
cb = figure(width=162, height=714, x_axis_type=None, output_backend="svg", toolbar_location=None,
            x_range=Range1d(0, 1), y_range=Range1d(0, 2), y_axis_location="right", frame_align=False,
            min_border_left=18, min_border_right=108, min_border_top=50, min_border_bottom=40,
            border_fill_color=None, background_fill_color=None, outline_line_color="black", outline_line_width=3.5)
cb.grid.visible = False
cb.image(image=[np.linspace(0, 2, 256).reshape(-1, 1)], x=0, y=0, dw=1, dh=2, color_mapper=MAPPER)
ax = cb.yaxis[0]
ax.ticker = FixedTicker(ticks=CB_TICKS)
ax.formatter = NumeralTickFormatter(format="0.0")
ax.major_tick_in = 0
ax.major_tick_out = 18
ax.major_tick_line_width = 3
ax.axis_line_width = 3.5
ax.minor_tick_line_color = None
ax.major_label_text_font = FONT
ax.major_label_text_font_size = TICK_SIZE
ax.major_label_text_color = "black"
ax.major_label_standoff = 15

# Colour bar label
rl = blank(2320, 8, 142, 872)
put(rl, 2398, 575, "X", 62, "bold", HT)
put(rl, 2402, 503, "\u2261", 80, "normal", HT)
rl.line([2385, 2385], [168, 429], line_color="black", line_width=3)
put(rl, 2368, 429, "\u03c1", 48, "bold italic", HT)
put(rl, 2374, 400, "\u2113=2", 34, "bold", HT)
put(rl, 2368, 334, "(r)", 54, "bold", HT)
put(rl, 2368, 262, "\u230b", 54, "normal", HT, font="DejaVu Sans")
put(rl, 2374, 244, "max", 32, "bold", HT)
put(rl, 2424, 375, "\u03c1", 48, "bold italic", HT)
put(rl, 2429, 346, "\u2113=0", 34, "bold", HT)
put(rl, 2424, 287, "(r)", 54, "bold", HT)

top = row(f_i, f_m, f_c, lg, spacing=0)
bottom = row(f_f, f_r, f_b, f_w, spacing=0, margin=(-65, 0, 0, 0))
mid = column(top, bottom, xl, spacing=0)
root = row(yl, mid, cb, rl, spacing=0, margin=(8, 0, 0, 8))
open("out.html", "w").write(file_html(root, INLINE))
